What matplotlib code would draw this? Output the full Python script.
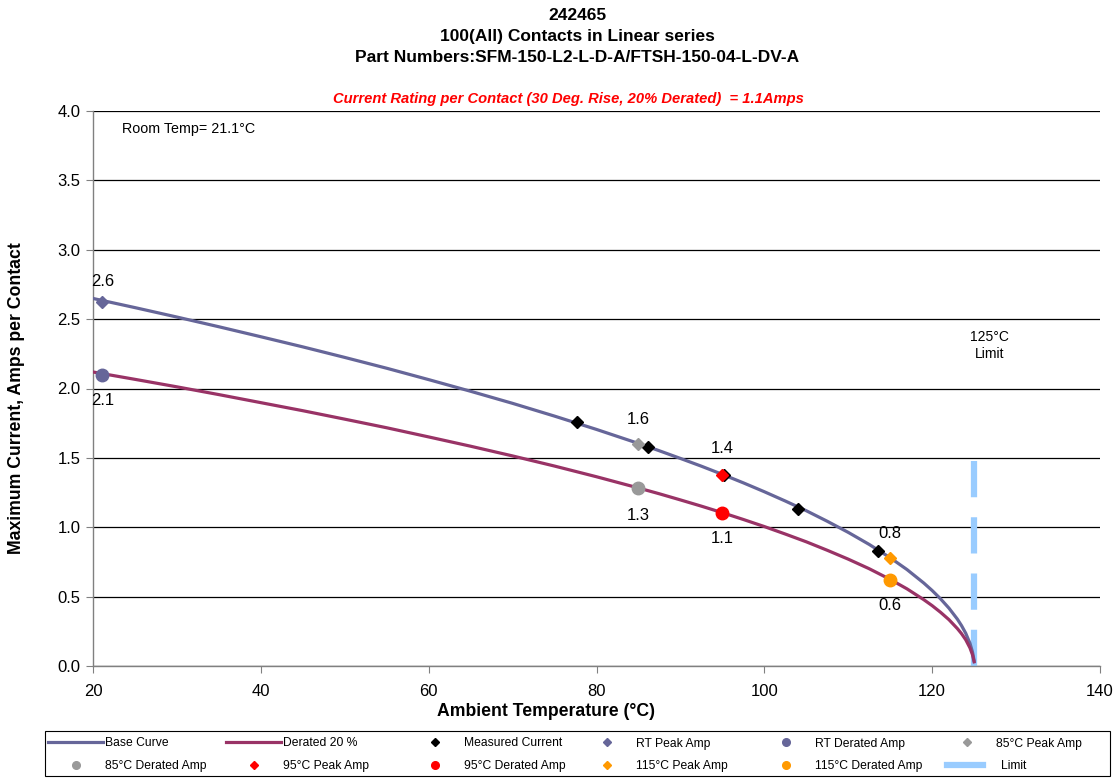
import matplotlib
matplotlib.use("Agg")
import matplotlib.pyplot as plt
from matplotlib.lines import Line2D
from matplotlib.patches import Rectangle

plt.rcParams['font.family'] = ['Liberation Sans', 'DejaVu Sans']

# Curves
curve_temp = [20, 25, 30, 35, 40, 45, 50, 55, 60, 65, 70, 75, 80, 85, 87.5, 90, 92.5,
              95, 97.5, 100, 102.5, 105, 107.5, 110, 112.5, 115, 117, 119, 120, 121,
              122, 123, 123.5, 124, 124.5, 124.8, 125]
base_curve = [2.649, 2.583, 2.515, 2.445, 2.373, 2.300, 2.224, 2.146, 2.064, 1.980,
              1.893, 1.801, 1.705, 1.604, 1.551, 1.496, 1.440, 1.381, 1.320, 1.256,
              1.189, 1.119, 1.043, 0.963, 0.876, 0.780, 0.695, 0.598, 0.544, 0.484,
              0.417, 0.338, 0.291, 0.236, 0.164, 0.102, 0.04]
derated_curve = [2.119, 2.066, 2.012, 1.956, 1.898, 1.840, 1.779, 1.717, 1.651, 1.584,
                 1.514, 1.441, 1.364, 1.283, 1.241, 1.197, 1.152, 1.105, 1.056, 1.005,
                 0.951, 0.895, 0.834, 0.770, 0.701, 0.624, 0.556, 0.478, 0.435, 0.387,
                 0.334, 0.270, 0.233, 0.189, 0.131, 0.082, 0.03]

measured_temp = [77.7, 86.1, 95.2, 104.0, 113.6]
measured_current = [1.76, 1.58, 1.38, 1.13, 0.83]

rt_temp = 21.1
rt_peak = 2.62
rt_derated = 2.10
t85, peak85, der85 = 85, 1.60, 1.28
t95, peak95, der95 = 95, 1.38, 1.10
t115, peak115, der115 = 115, 0.78, 0.62

limit_temp = [125, 125]
limit_current = [0, 1.62]

x_ticks = [20, 40, 60, 80, 100, 120, 140]
y_ticks = [0.0, 0.5, 1.0, 1.5, 2.0, 2.5, 3.0, 3.5, 4.0]

BASE = '#666699'
DER = '#993366'
GRAY = '#999999'
RED = '#FF0000'
ORANGE = '#FF9900'
LIMIT = '#99CCFF'

W, H = 1117, 778
fig = plt.figure(figsize=(W / 100, H / 100), dpi=100)
ax = fig.add_axes([93/W, 1 - 666/H, (1100-93)/W, (666-111)/H])

ax.plot(curve_temp, base_curve, color=BASE, lw=2.3, zorder=3, solid_joinstyle='round')
ax.plot(curve_temp, derated_curve, color=DER, lw=2.3, zorder=3, solid_joinstyle='round')
ax.plot(limit_temp, limit_current, color=LIMIT, lw=4.5, zorder=2,
        dashes=(5.8, 3.2), dash_capstyle='butt')

ax.plot(measured_temp, measured_current, ls='none', marker='D', ms=6.5, color='black', zorder=4)
ax.plot([rt_temp], [rt_peak], ls='none', marker='D', ms=6.5, color=BASE, zorder=5)
ax.plot([rt_temp], [rt_derated], ls='none', marker='o', ms=9, color=BASE, zorder=5)
ax.plot([t85], [peak85], ls='none', marker='D', ms=6.5, color=GRAY, zorder=5)
ax.plot([t85], [der85], ls='none', marker='o', ms=9, color=GRAY, zorder=5)
ax.plot([t95], [peak95], ls='none', marker='D', ms=6.5, color=RED, zorder=5)
ax.plot([t95], [der95], ls='none', marker='o', ms=9, color=RED, zorder=5)
ax.plot([t115], [peak115], ls='none', marker='D', ms=6.5, color=ORANGE, zorder=5)
ax.plot([t115], [der115], ls='none', marker='o', ms=9, color=ORANGE, zorder=5)

lab_fs = 12
ax.annotate(f'{rt_peak:.1f}', (rt_temp, rt_peak), xytext=(0, 10), textcoords='offset points', ha='center', va='bottom', fontsize=lab_fs)
ax.annotate(f'{rt_derated:.1f}', (rt_temp, rt_derated), xytext=(0, -13), textcoords='offset points', ha='center', va='top', fontsize=lab_fs)
ax.annotate(f'{peak85:.1f}', (t85, peak85), xytext=(0, 12), textcoords='offset points', ha='center', va='bottom', fontsize=lab_fs)
ax.annotate(f'{der85:.1f}', (t85, der85), xytext=(0, -14), textcoords='offset points', ha='center', va='top', fontsize=lab_fs)
ax.annotate(f'{peak95:.1f}', (t95, peak95), xytext=(0, 13), textcoords='offset points', ha='center', va='bottom', fontsize=lab_fs)
ax.annotate(f'{der95:.1f}', (t95, der95), xytext=(0, -12.5), textcoords='offset points', ha='center', va='top', fontsize=lab_fs)
ax.annotate(f'{peak115:.1f}', (t115, peak115), xytext=(0, 12), textcoords='offset points', ha='center', va='bottom', fontsize=lab_fs)
ax.annotate(f'{der115:.1f}', (t115, der115), xytext=(0, -13), textcoords='offset points', ha='center', va='top', fontsize=lab_fs)

ax.text(23.5, 3.87, 'Room Temp= 21.1°C', fontsize=10.3, ha='left', va='center')
ax.text(126.8, 2.31, '125°C\nLimit', fontsize=10, ha='center', va='center', linespacing=1.35)

ax.set_xlim(20, 140)
ax.set_ylim(0, 4.0)
ax.set_xticks(x_ticks)
ax.set_yticks(y_ticks)
ax.set_xticklabels([str(t) for t in x_ticks], fontsize=12)
ax.set_yticklabels([f'{t:.1f}' for t in y_ticks], fontsize=12)
ax.tick_params(direction='out', length=5, color='#808080')
ax.tick_params(axis='y', pad=4)
ax.tick_params(axis='x', pad=8)
ax.yaxis.grid(True, color='black', lw=0.9)
ax.set_axisbelow(True)
for s in ['top', 'right']:
    ax.spines[s].set_visible(False)
for s in ['left', 'bottom']:
    ax.spines[s].set_color('#808080')
    ax.spines[s].set_linewidth(1.0)

fig.text(546/W, 1 - 711/H, 'Ambient Temperature (°C)', ha='center', va='center',
         fontsize=12.7, fontweight='bold')
fig.text(17/W, 1 - 398.5/H, 'Maximum Current, Amps per Contact', ha='center', va='center',
         rotation=90, fontsize=12.7, fontweight='bold')

fig.text(577/W, 1 - 16/H, '242465', ha='center', va='center', fontsize=12.5, fontweight='bold')
fig.text(577/W, 1 - 37/H, '100(All) Contacts in Linear series', ha='center', va='center', fontsize=12.5, fontweight='bold')
fig.text(577/W, 1 - 58/H, 'Part Numbers:SFM-150-L2-L-D-A/FTSH-150-04-L-DV-A', ha='center', va='center', fontsize=12.5, fontweight='bold')
fig.text(568/W, 1 - 99/H, 'Current Rating per Contact (30 Deg. Rise, 20% Derated)  = 1.1Amps',
         ha='center', va='center', fontsize=10.6, fontweight='bold', fontstyle='italic', color=RED)

# Legend: one entry per slot, framed by a rectangle
fig.patches.append(Rectangle((45/W, 1 - 776/H), (1110-45)/W, (776-731)/H,
                             transform=fig.transFigure, fill=False, edgecolor='black', lw=0.8))

entries = [
    (Line2D([], [], color=BASE, lw=2.3), 'Base Curve'),
    (Line2D([], [], color=DER, lw=2.3), 'Derated 20 %'),
    (Line2D([], [], color='black', marker='D', ls='none', ms=4), 'Measured Current'),
    (Line2D([], [], color=BASE, marker='D', ls='none', ms=4), 'RT Peak Amp'),
    (Line2D([], [], color=BASE, marker='o', ls='none', ms=5.5), 'RT Derated Amp'),
    (Line2D([], [], color=GRAY, marker='D', ls='none', ms=4), '85°C Peak Amp'),
    (Line2D([], [], color=GRAY, marker='o', ls='none', ms=5.5), '85°C Derated Amp'),
    (Line2D([], [], color=RED, marker='D', ls='none', ms=4), '95°C Peak Amp'),
    (Line2D([], [], color=RED, marker='o', ls='none', ms=5.5), '95°C Derated Amp'),
    (Line2D([], [], color=ORANGE, marker='D', ls='none', ms=4), '115°C Peak Amp'),
    (Line2D([], [], color=ORANGE, marker='o', ls='none', ms=5.5), '115°C Derated Amp'),
    (Line2D([], [], color=LIMIT, lw=4.5), 'Limit'),
]
col_text_x = [105, 283, 464, 636, 815, 996]
row_y = [743.5, 766]
leg_fs = 8.7
for i, (h, lab) in enumerate(entries):
    r, c = divmod(i, 6)
    hl_px, gap_px = 55, 2
    if lab == 'Limit':
        hl_px, gap_px = 36, 18
        tx = 1001
    else:
        tx = col_text_x[c]
    hl = hl_px * 0.72 / leg_fs
    pad = gap_px * 0.72 / leg_fs
    x0 = tx - hl_px - gap_px
    leg = fig.legend([h], [lab], loc='center left', bbox_to_anchor=(x0/W, 1 - row_y[r]/H),
                     fontsize=leg_fs, frameon=False, borderpad=0, borderaxespad=0,
                     handlelength=hl, handletextpad=pad)

fig.savefig('out.png', dpi=100)
